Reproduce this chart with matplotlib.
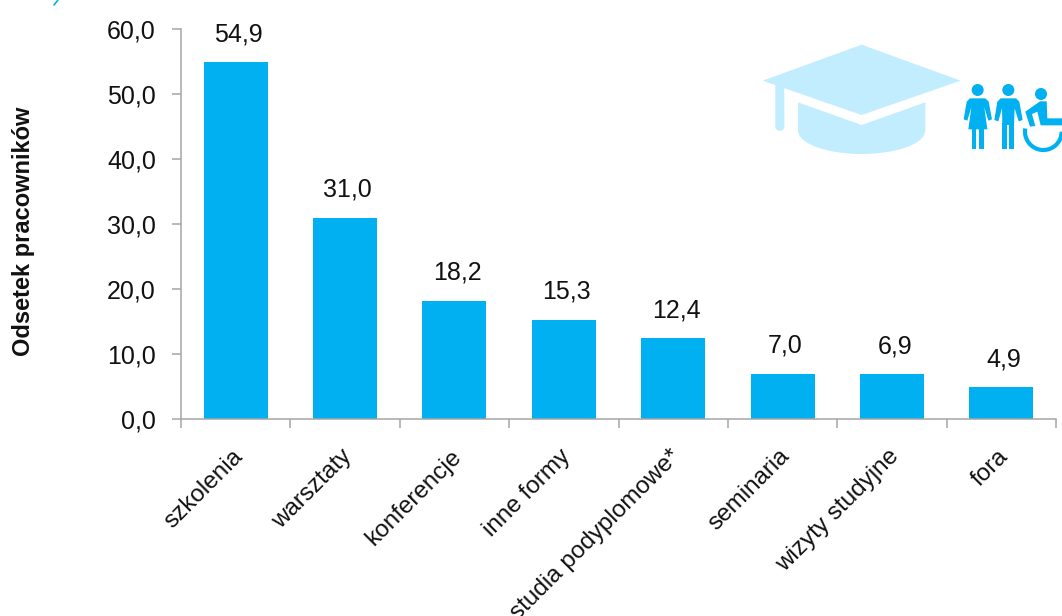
import matplotlib
matplotlib.use('Agg')
import matplotlib.pyplot as plt
from matplotlib.patches import Polygon, Circle, Arc
from matplotlib.path import Path
from matplotlib.patches import PathPatch
import numpy as np

plt.rcParams['font.family'] = ['Liberation Sans', 'DejaVu Sans']

# dane
categories = ['szkolenia', 'warsztaty', 'konferencje', 'inne formy',
              'studia podyplomowe*', 'seminaria', 'wizyty studyjne', 'fora']
values = [54.9, 31.0, 18.2, 15.3, 12.4, 7.0, 6.9, 4.9]
y_ticks = [0, 10, 20, 30, 40, 50, 60]

BAR = '#00B0F0'
CAP = '#C1EDFF'
AXIS = '#A6A6A6'
TEXT = '#111111'
W, H = 1062, 616


def pl(v):
    # przecinek dziesietny
    return f'{v:.1f}'.replace('.', ',')


fig = plt.figure(figsize=(W / 100, H / 100), dpi=100)
ax = fig.add_axes([181 / W, (H - 419) / H, 875 / W, 390 / H])

x = np.arange(len(categories))
ax.bar(x, values, width=0.585, color=BAR)
ax.set_xlim(-0.5, len(categories) - 0.5)
ax.set_ylim(0, 60)

for xi, v in zip(x, values):
    ax.annotate(pl(v), (xi, v), xytext=(2, 15), textcoords='offset points',
                ha='center', va='baseline', fontsize=18, color=TEXT)

ax.set_yticks(y_ticks)
ax.set_yticklabels([pl(t) for t in y_ticks], fontsize=18, color=TEXT)
ax.set_xticks(list(x - 0.5) + [len(categories) - 0.5])
ax.set_xticklabels([''] * (len(categories) + 1))
ax.tick_params(axis='both', length=6.5, width=1.1, color=AXIS)
ax.tick_params(axis='y', pad=11.5)

# podpisy kategorii obrocone o 45 stopni
for xi, name in zip(x, categories):
    ax.annotate(name, (xi, 0), xytext=(-3, -19), textcoords='offset points',
                rotation=45, rotation_mode='anchor', ha='right', va='top',
                fontsize=17.5, color=TEXT, annotation_clip=False)

for s in ['top', 'right']:
    ax.spines[s].set_visible(False)
for s in ['left', 'bottom']:
    ax.spines[s].set_color(AXIS)
    ax.spines[s].set_linewidth(1.1)

fig.text(24 / W, 1 - 231 / H, 'Odsetek pracowników', rotation=90, ha='center',
         va='center', fontsize=17, fontweight='bold', color=TEXT)

# warstwa na ikony, wspolrzedne w pikselach obrazu
deco = fig.add_axes([0, 0, 1, 1], facecolor='none')
deco.set_xlim(0, W)
deco.set_ylim(H, 0)
deco.axis('off')


def z(pts):
    # punkty mierzone na powiekszeniu 3x
    return [(750 + a / 3, 30 + b / 3) for a, b in pts]


def poly(pts, color):
    deco.add_patch(Polygon(z(pts), closed=True, fc=color, ec='none'))


def circ(a, b, r, color):
    deco.add_patch(Circle((750 + a / 3, 30 + b / 3), r / 3, fc=color, ec='none'))


# czapka
poly([(38, 152), (335, 44), (632, 152), (335, 255)], CAP)
poly([(76, 160), (103, 170), (103, 290), (76, 290)], CAP)
circ(89.5, 289, 13.5, CAP)
verts = z([(144, 217), (335, 285), (526, 217), (526, 300), (526, 345), (430, 372),
           (335, 372), (240, 372), (144, 345), (144, 300), (144, 217)])
codes = [Path.MOVETO, Path.LINETO, Path.LINETO, Path.LINETO, Path.CURVE4, Path.CURVE4,
         Path.CURVE4, Path.CURVE4, Path.CURVE4, Path.CURVE4, Path.CLOSEPOLY]
deco.add_patch(PathPatch(Path(verts, codes), fc=CAP, ec='none'))

# kobieta
circ(683, 180, 18, BAR)
poly([(660, 205), (706, 205), (716, 215), (726, 268), (715, 272), (703, 232),
      (712, 298), (655, 298), (664, 232), (652, 272), (641, 268), (650, 215)], BAR)
poly([(665, 295), (679, 295), (679, 358), (665, 358)], BAR)
poly([(688, 295), (702, 295), (702, 358), (688, 358)], BAR)

# mezczyzna
circ(775, 180, 18, BAR)
poly([(752, 205), (798, 205), (808, 215), (818, 270), (806, 274), (794, 235),
      (792, 285), (757, 285), (756, 235), (745, 274), (733, 270), (742, 215)], BAR)
poly([(757, 280), (771, 280), (771, 358), (757, 358)], BAR)
poly([(778, 280), (792, 280), (792, 358), (778, 358)], BAR)

# osoba na wozku
circ(873, 192, 18, BAR)
poly([(870, 214), (890, 214), (892, 265), (936, 265), (936, 286), (872, 286),
      (862, 245), (846, 252), (856, 288), (840, 290), (826, 245)], BAR)
deco.add_patch(Arc((750 + 880 / 3, 30 + 305 / 3), 110 / 3, 110 / 3, theta1=0, theta2=190,
                   ec=BAR, lw=3))

# kawalek znaku u gory
deco.plot([58, 54], [0, 5], color=BAR, lw=1.2, solid_capstyle='round')

fig.savefig('out.png', dpi=100)
